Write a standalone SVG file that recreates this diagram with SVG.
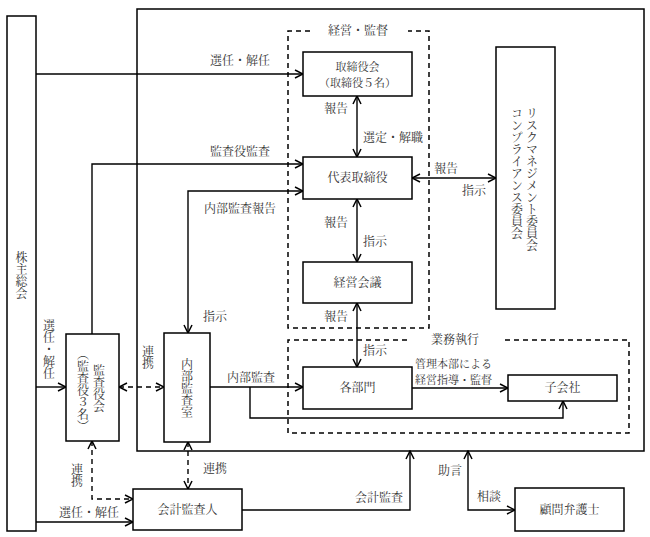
<svg xmlns="http://www.w3.org/2000/svg" width="650" height="537" viewBox="0 0 650 537">
<style>
.b{fill:#fff;stroke:#000;stroke-width:1.5}
.f{fill:none;stroke:#000;stroke-width:1.5}
.d{fill:none;stroke:#000;stroke-width:1.5;stroke-dasharray:5 4}
.c{fill:none;stroke:#000;stroke-width:1.4}
.cd{fill:none;stroke:#000;stroke-width:1.4;stroke-dasharray:5 4}
.e{marker-end:url(#ah)}
.s{marker-start:url(#ah)}
text{font-family:"Noto Serif CJK JP","Noto Sans CJK JP",serif;font-size:12px;fill:#333}
.m{text-anchor:middle}
.v{writing-mode:vertical-rl;text-anchor:middle}
.sm{font-size:11px}
</style>
<defs>
<marker id="ah" viewBox="0 0 10 10" refX="9" refY="5" markerWidth="10" markerHeight="10" markerUnits="userSpaceOnUse" orient="auto-start-reverse">
<path d="M1,1 L9,5 L1,9" fill="none" stroke="#000" stroke-width="1.5"/>
</marker>
</defs>
<rect class="f" x="137" y="9" width="507" height="442"/>
<path class="d" d="M310,31 H288 V328 H429 V31 H408"/>
<text class="m" x="358" y="35">経営・監督</text>
<path class="d" d="M407,340 H288 V433 H629 V340 H503"/>
<text class="m" x="455" y="344">業務執行</text>
<g id="connectors">
<path class="c e" d="M36,74 H303"/>
<path class="c e" d="M92,334 V164 H303"/>
<path class="c e s" d="M357,96 V157"/>
<path class="c e s" d="M357,199 V262"/>
<path class="c e s" d="M357,303 V367"/>
<path class="c e s" d="M412,178 H496"/>
<path class="c e s" d="M188,333 V191 H303"/>
<path class="c e" d="M36,387 H66"/>
<path class="cd e s" d="M119,387 H164"/>
<path class="cd e s" d="M92,441 V499 H133"/>
<path class="cd e s" d="M188,442 V489"/>
<path class="c e" d="M36,522 H133"/>
<path class="c e" d="M210,387 H303"/>
<path class="c e" d="M250,387 V418 H563 V401"/>
<path class="c e" d="M412,388 H508"/>
<path class="c e" d="M242,510 H410 V451"/>
<path class="c e s" d="M468,451 V510 H515"/>
<text class="m" x="240" y="65">選任・解任</text>
<text class="m" x="240" y="156">監査役監査</text>
<text class="m" x="336" y="113">報告</text>
<text x="363" y="142">選定・解職</text>
<text class="m" x="336" y="227">報告</text>
<text x="363" y="246">指示</text>
<text class="m" x="336" y="321">報告</text>
<text x="363" y="355">指示</text>
<text class="m" x="446" y="173">報告</text>
<text class="m" x="474" y="195">指示</text>
<text class="m" x="240" y="213">内部監査報告</text>
<text x="203" y="321">指示</text>
<text class="v" x="49" y="349">選任・解任</text>
<text class="v" x="148" y="357">連携</text>
<text class="v" x="77" y="475">連携</text>
<text x="203" y="473">連携</text>
<text class="m" x="89" y="517">選任・解任</text>
<text class="m" x="251" y="382">内部監査</text>
<text class="sm" x="415" y="368">管理本部による</text>
<text class="sm" x="415" y="384">経営指導・監督</text>
<text class="m" x="379" y="502">会計監査</text>
<text class="m" x="450" y="475">助言</text>
<text class="m" x="489" y="501">相談</text>
</g>
<g id="kabunushi"><rect class="b" x="7" y="16" width="29" height="515"/><text class="v" x="21.5" y="275">株主総会</text></g>
<g id="torishimariyakukai"><rect class="b" x="303" y="52" width="109" height="44"/><text class="m sm" x="357.5" y="71">取締役会</text><text class="m sm" x="357.5" y="87">（取締役５名）</text></g>
<g id="daihyo"><rect class="b" x="303" y="157" width="109" height="42"/><text class="m" x="357.5" y="182">代表取締役</text></g>
<g id="keieikaigi"><rect class="b" x="303" y="262" width="109" height="41"/><text class="m" x="357.5" y="287">経営会議</text></g>
<g id="risk"><rect class="b" x="496" y="47" width="59" height="262"/><text class="v" x="532" y="107" style="text-anchor:start">リスクマネジメント委員会</text><text class="v" x="517" y="107" style="text-anchor:start">コンプライアンス委員会</text></g>
<g id="kansayakukai"><rect class="b" x="66" y="334" width="53" height="107"/><text class="v" x="99" y="388">監査役会</text><text class="v" x="83" y="390">（監査役３名）</text></g>
<g id="naibukansa"><rect class="b" x="164" y="333" width="46" height="109"/><text class="v" x="187" y="388">内部監査室</text></g>
<g id="kakubumon"><rect class="b" x="303" y="367" width="109" height="42"/><text class="m" x="357.5" y="392">各部門</text></g>
<g id="kogaisha"><rect class="b" x="508" y="375" width="109" height="26"/><text class="m" x="562.5" y="392">子会社</text></g>
<g id="kaikei"><rect class="b" x="133" y="489" width="109" height="41"/><text class="m" x="187.5" y="514">会計監査人</text></g>
<g id="bengoshi"><rect class="b" x="515" y="488" width="109" height="43"/><text class="m" x="569.5" y="514">顧問弁護士</text></g>
</svg>
